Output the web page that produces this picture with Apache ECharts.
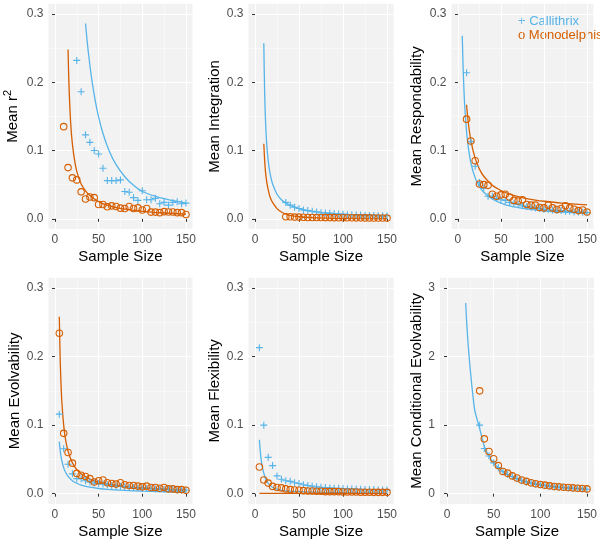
<!DOCTYPE html>
<html><head><meta charset="utf-8">
<script src="https://cdn.jsdelivr.net/npm/echarts@6/dist/echarts.min.js"></script>
<style>html,body{margin:0;padding:0;background:#fff}#c{width:600px;height:542px}</style>
</head><body><div id="c"></div>
<script>
// ---------------- data ----------------
const seriesNames = ['Callithrix', 'Monodelphis'];
const xTickLabels = [0, 50, 100, 150];
const xMinorTicks = [25, 75, 125];
const yTickLabels = [0, 0.1, 0.2, 0.3];
const yMinorTicks = [0.05, 0.15, 0.25];
const yTickLabelsCE = [0, 1, 2, 3];
const yMinorTicksCE = [0.5, 1.5, 2.5];
const yTitles = ['Mean r{sup|2}', 'Mean Integration', 'Mean Respondability', 'Mean Evolvability', 'Mean Flexibility', 'Mean Conditional Evolvability'];
const xTitle = 'Sample Size';

const n5 = [5,10,15,20,25,30,35,40,45,50,55,60,65,70,75,80,85,90,95,100,105,110,115,120,125,130,135,140,145,150];
const n10 = [10,15,20,25,30,35,40,45,50,55,60,65,70,75,80,85,90,95,100,105,110,115,120,125,130,135,140,145,150];
const n25 = [25,30,35,40,45,50,55,60,65,70,75,80,85,90,95,100,105,110,115,120,125,130,135,140,145,150];
const n35 = [35,40,45,50,55,60,65,70,75,80,85,90,95,100,105,110,115,120,125,130,135,140,145,150];

// Mean r^2
const r2Cal = [0.232,0.186,0.123,0.112,0.100,0.095,0.074,0.056,0.056,0.056,0.057,0.040,0.039,0.031,0.027,0.041,0.028,0.028,0.030,0.022,0.024,0.020,0.024,0.025,0.022,0.023];
const r2Mon = [0.135,0.075,0.060,0.057,0.0395,0.029,0.032,0.031,0.021,0.021,0.0176,0.019,0.018,0.0156,0.015,0.018,0.015,0.016,0.013,0.015,0.0098,0.0098,0.009,0.0105,0.010,0.010,0.009,0.009,0.0064];
const r2CalLineN = [35,38,42,46,50,55,62,70,80,90,100,120,150];
const r2CalLine = [0.286,0.2465,0.2055,0.174,0.149,0.125,0.0998,0.0793,0.0616,0.049,0.040,0.031,0.023];
const r2MonLineN = [15,16,18,20,23,26,30,35,40,50,60,70,80,90,100,120,150];
const r2MonLine = [0.248,0.198,0.140,0.109,0.0815,0.065,0.051,0.041,0.034,0.025,0.0199,0.0165,0.0141,0.0123,0.0109,0.0089,0.007];

// Mean Integration
const intCal = [0.024,0.020,0.017,0.015,0.013,0.012,0.011,0.010,0.009,0.0085,0.008,0.0075,0.007,0.0065,0.006,0.006,0.0055,0.0055,0.005,0.005,0.005,0.0045,0.0045,0.0045];
const intMon = [0.003,0.003,0.0025,0.0025,0.0022,0.002,0.002,0.002,0.002,0.0018,0.0018,0.0017,0.0016,0.0016,0.0015,0.0015,0.0014,0.0014,0.0013,0.0013,0.0012,0.0012,0.0012,0.0011];
const intCalLineN = [10,11,12,13,14,16,18,20,25,30,35,40,50,60,80,100,120,150];
const intCalLine = [0.257,0.183,0.142,0.116,0.098,0.075,0.061,0.051,0.036,0.028,0.023,0.0196,0.015,0.0121,0.0088,0.0069,0.0057,0.0045];
const intMonLineN = [10,11,12,13,14,16,18,20,25,30,35,40,50,60,80,100,150];
const intMonLine = [0.110,0.085,0.068,0.057,0.049,0.037,0.029,0.024,0.015,0.010,0.007,0.005,0.003,0.002,0.001,0.0006,0.0003];

// Mean Respondability
const resCal = [0.214,0.113,0.077,0.053,0.045,0.033,0.033,0.030,0.028,0.027,0.024,0.022,0.021,0.019,0.018,0.017,0.016,0.015,0.014,0.014,0.013,0.012,0.012,0.011,0.011,0.010,0.010,0.0095,0.009];
const resMon = [0.146,0.114,0.085,0.051,0.050,0.049,0.036,0.033,0.035,0.036,0.032,0.027,0.026,0.028,0.021,0.020,0.020,0.0165,0.016,0.020,0.016,0.0137,0.015,0.019,0.016,0.014,0.012,0.013,0.010];
const resCalLineN = [5,6,7,8,10,12,15,20,25,30,40,50,60,70,80,100,120,150];
const resCalLine = [0.268,0.222,0.188,0.163,0.128,0.105,0.082,0.060,0.047,0.039,0.029,0.023,0.019,0.0165,0.0145,0.0118,0.0100,0.0082];
const resMonLineN = [10,12,15,20,25,30,40,50,60,70,80,90,100,120,150];
const resMonLine = [0.167,0.141,0.115,0.0885,0.0728,0.0623,0.049,0.0414,0.0362,0.0324,0.0296,0.0274,0.0257,0.0231,0.0205];

// Mean Evolvability
const evoCal = [0.116,0.0655,0.043,0.029,0.022,0.022,0.019,0.017,0.0155,0.015,0.014,0.013,0.012,0.011,0.011,0.010,0.0095,0.009,0.0085,0.008,0.008,0.0075,0.007,0.007,0.0065,0.006,0.006,0.0055,0.0055,0.005];
const evoMon = [0.234,0.088,0.060,0.0446,0.0296,0.027,0.025,0.022,0.017,0.019,0.020,0.016,0.015,0.014,0.016,0.013,0.012,0.012,0.011,0.010,0.011,0.009,0.009,0.008,0.009,0.007,0.007,0.006,0.006,0.005];
const evoCalLineN = [5,6,7,8,10,12,15,20,25,30,40,50,60,80,100,120,150];
const evoCalLine = [0.076,0.063,0.054,0.0475,0.038,0.0317,0.0253,0.019,0.0152,0.0127,0.0095,0.0076,0.0063,0.0048,0.0038,0.0032,0.0025];
const evoMonLineN = [5,6,7,8,10,12,15,20,25,30,40,50,60,80,100,120,150];
const evoMonLine = [0.258,0.196,0.158,0.132,0.100,0.080,0.062,0.045,0.0352,0.029,0.0214,0.0169,0.014,0.0104,0.0083,0.0069,0.0055];

// Mean Flexibility
const flxCal = [0.213,0.100,0.053,0.041,0.026,0.021,0.019,0.018,0.016,0.015,0.013,0.012,0.011,0.010,0.0095,0.009,0.0085,0.008,0.008,0.0075,0.007,0.007,0.0065,0.0065,0.006,0.006,0.006,0.0055,0.0055,0.0055];
const flxMon = [0.039,0.020,0.0155,0.0107,0.009,0.0085,0.007,0.006,0.0055,0.005,0.0045,0.004,0.004,0.0035,0.0035,0.003,0.003,0.003,0.003,0.0025,0.0025,0.0025,0.0025,0.0022,0.0022,0.0022,0.002,0.002,0.002,0.002];
const flxCalLineN = [5,6,7,8,10,12,15,20,30,50,100,150];
const flxCalLine = [0.0786,0.062,0.050,0.041,0.030,0.022,0.015,0.009,0.005,0.003,0.0015,0.001];
const flxMonLineN = [5,20,50,100,150];
const flxMonLine = [0.0006,0.0005,0.0004,0.0003,0.0002];

// Mean Conditional Evolvability
const ceCal = [1.0,0.66,0.55,0.45,0.38,0.32,0.28,0.25,0.22,0.19,0.17,0.155,0.14,0.13,0.12,0.11,0.10,0.095,0.09,0.085,0.08,0.075,0.07,0.065];
const ceMon = [1.50,0.80,0.616,0.51,0.41,0.325,0.30,0.26,0.23,0.20,0.18,0.16,0.145,0.135,0.125,0.115,0.105,0.10,0.095,0.09,0.085,0.08,0.075,0.07];
const ceCalLineN = [20,22,25,28,30,35,40,45,50,60,70,80,90,100,120,150];
const ceCalLine = [2.78,2.3,1.8,1.4,1.2,0.95,0.69,0.55,0.45,0.32,0.245,0.19,0.155,0.13,0.095,0.065];

// ---------------- styling / layout ----------------
const COL_CAL = '#56B4E9', COL_MON = '#D55E00';
const FONT = 'Liberation Sans, Arial, Helvetica, sans-serif';
const layout = [
  {left: 48.4, top: 3.75, width: 144.1, height: 225.3, gap: 26},
  {left: 248.4, top: 3.75, width: 145.2, height: 225.3, gap: 25},
  {left: 451.5, top: 3.75, width: 142.0, height: 225.3, gap: 27},
  {left: 48.4, top: 277.7, width: 144.1, height: 226.3, gap: 26},
  {left: 248.4, top: 277.7, width: 145.2, height: 226.3, gap: 25},
  {left: 440.0, top: 277.7, width: 154.0, height: 226.3, gap: 16}
];
const pair = (xs, ys) => xs.map((x, i) => [x, ys[i]]);
const panels = [
  {cal: pair(n25, r2Cal), mon: pair(n10, r2Mon), calLine: pair(r2CalLineN, r2CalLine), monLine: pair(r2MonLineN, r2MonLine)},
  {cal: pair(n35, intCal), mon: pair(n35, intMon), calLine: pair(intCalLineN, intCalLine), monLine: pair(intMonLineN, intMonLine)},
  {cal: pair(n10, resCal), mon: pair(n10, resMon), calLine: pair(resCalLineN, resCalLine), monLine: pair(resMonLineN, resMonLine)},
  {cal: pair(n5, evoCal), mon: pair(n5, evoMon), calLine: pair(evoCalLineN, evoCalLine), monLine: pair(evoMonLineN, evoMonLine)},
  {cal: pair(n5, flxCal), mon: pair(n5, flxMon), calLine: pair(flxCalLineN, flxCalLine), monLine: pair(flxMonLineN, flxMonLine)},
  {cal: pair(n35, ceCal), mon: pair(n35, ceMon), calLine: pair(ceCalLineN, ceCalLine), monLine: null}
];

const grid = [], xAxis = [], yAxis = [], series = [];
const PLUS = 'path://M5,0L5,10M0,5L10,5';
layout.forEach((g, i) => {
  grid.push({left: g.left, top: g.top, width: g.width, height: g.height, show: true, backgroundColor: '#F2F2F2', borderWidth: 0, containLabel: false});
  const ce = i === 5;
  const yMaj = ce ? yTickLabelsCE : yTickLabels;
  const yMin = ce ? yMinorTicksCE : yMinorTicks;
  const yLo = ce ? -0.15 : -0.015, yHi = ce ? 3.15 : 0.315;
  xAxis.push({
    gridIndex: i, type: 'value', min: -7.5, max: 157.5, position: 'bottom',
    name: xTitle, nameLocation: 'middle', nameGap: 20,
    nameTextStyle: {fontFamily: FONT, fontSize: 15, color: '#000'},
    axisLine: {show: false},
    axisTick: {show: true, length: 3, lineStyle: {color: '#333', width: 1}, customValues: xTickLabels},
    axisLabel: {customValues: xTickLabels, margin: 5, fontFamily: FONT, fontSize: 12, color: '#4D4D4D'},
    splitLine: {show: true, lineStyle: {color: '#FFFFFF', width: 1.1}}
  });
  xAxis.push({
    gridIndex: i, type: 'value', min: -7.5, max: 157.5, position: 'top',
    axisLine: {show: false}, axisLabel: {show: false},
    axisTick: {show: false, customValues: xMinorTicks},
    splitLine: {show: true, lineStyle: {color: '#FFFFFF', width: 0.5}}
  });
  yAxis.push({
    gridIndex: i, type: 'value', min: yLo, max: yHi, position: 'left',
    name: yTitles[i], nameLocation: 'middle', nameGap: g.gap, nameRotate: 90,
    nameTextStyle: {fontFamily: FONT, fontSize: 15, color: '#000', rich: {sup: {fontFamily: FONT, fontSize: 11, color: '#000', padding: [0, 0, 9, 0]}}},
    axisLine: {show: false},
    axisTick: {show: true, length: 3, lineStyle: {color: '#333', width: 1}, customValues: yMaj},
    axisLabel: {customValues: yMaj, margin: 5, fontFamily: FONT, fontSize: 12, color: '#4D4D4D',
      formatter: v => ce ? String(Math.round(v)) : v.toFixed(1)},
    splitLine: {show: true, lineStyle: {color: '#FFFFFF', width: 1.1}}
  });
  yAxis.push({
    gridIndex: i, type: 'value', min: yLo, max: yHi, position: 'right',
    axisLine: {show: false}, axisLabel: {show: false},
    axisTick: {show: false, customValues: yMin},
    splitLine: {show: true, lineStyle: {color: '#FFFFFF', width: 0.5}}
  });
  const xi = 2 * i, yi = 2 * i;
  const p = panels[i];
  series.push({name: seriesNames[0], type: 'line', xAxisIndex: xi, yAxisIndex: yi, data: p.calLine, showSymbol: false, smooth: 0.3,
    lineStyle: {color: COL_CAL, width: 1.3}, z: 3, silent: true});
  if (p.monLine) series.push({name: seriesNames[1], type: 'line', xAxisIndex: xi, yAxisIndex: yi, data: p.monLine, showSymbol: false, smooth: 0.3,
    lineStyle: {color: COL_MON, width: 1.3}, z: 3, silent: true});
  series.push({name: seriesNames[0], type: 'scatter', xAxisIndex: xi, yAxisIndex: yi, data: p.cal, symbol: PLUS, symbolSize: 7,
    itemStyle: {color: 'rgba(0,0,0,0)', borderColor: COL_CAL, borderWidth: 1.1, opacity: 1}, z: 4, silent: true});
  series.push({name: seriesNames[1], type: 'scatter', xAxisIndex: xi, yAxisIndex: yi, data: p.mon, symbol: 'circle', symbolSize: 6.5,
    itemStyle: {color: 'rgba(0,0,0,0)', borderColor: COL_MON, borderWidth: 1.1, opacity: 1}, z: 4, silent: true});
});

const chart = echarts.init(document.getElementById('c'), null, {renderer: 'canvas'});
chart.setOption({
  animation: false,
  backgroundColor: '#FFFFFF',
  grid, xAxis, yAxis, series,
  graphic: [
    {type: 'text', left: 518, top: 15, style: {text: '+ ' + seriesNames[0], fill: COL_CAL, font: '13px ' + FONT}},
    {type: 'text', left: 518, top: 29, style: {text: 'o ' + seriesNames[1], fill: COL_MON, font: '13px ' + FONT}}
  ]
});
</script></body></html>
